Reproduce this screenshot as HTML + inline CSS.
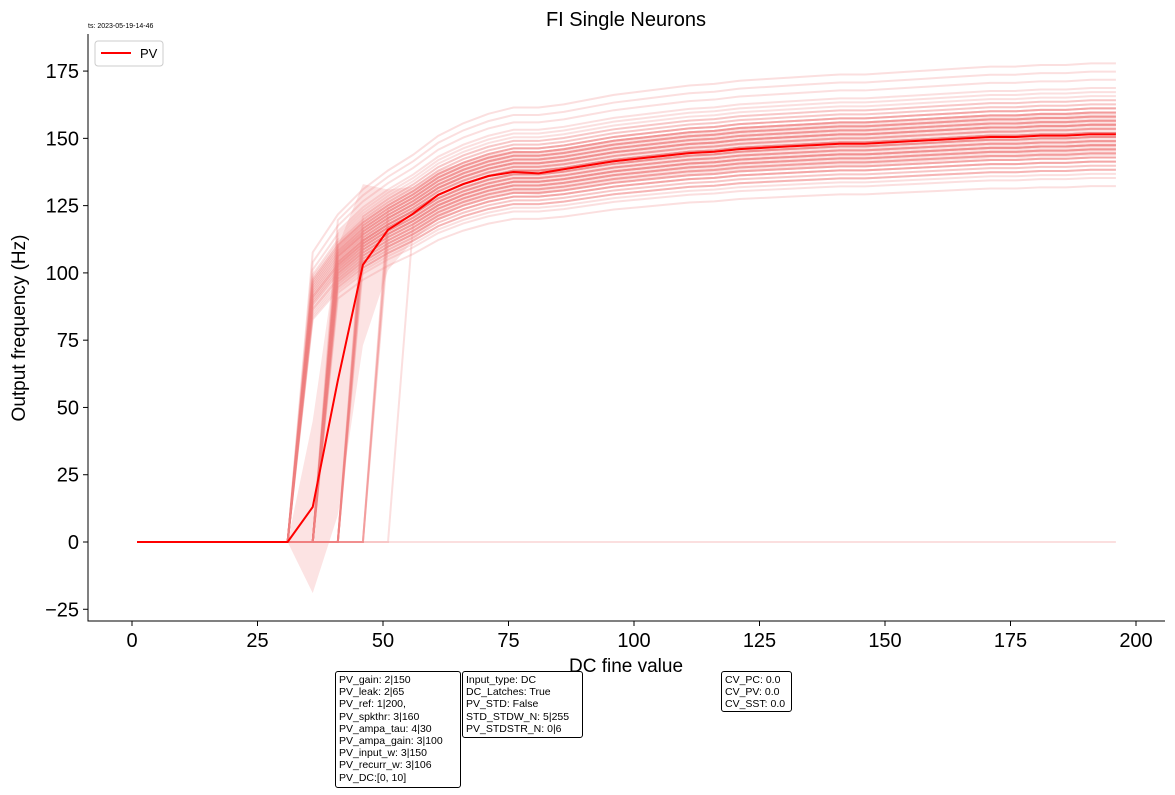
<!DOCTYPE html>
<html><head><meta charset="utf-8"><style>
body{margin:0;background:#fff;font-family:"Liberation Sans","DejaVu Sans",sans-serif}
svg{display:block}
.box{position:absolute;border:1px solid #000;border-radius:3px;background:#fff;font-size:10.5px;line-height:12.2px;padding:2px 3px;white-space:pre}
</style></head><body>
<div style="position:relative;width:1175px;height:795px">
<svg id="chart" width="1175" height="795"></svg>
<div class="box" style="left:335px;top:671px;width:118px;height:111px">PV_gain: 2|150
PV_leak: 2|65
PV_ref: 1|200,
PV_spkthr: 3|160
PV_ampa_tau: 4|30
PV_ampa_gain: 3|100
PV_input_w: 3|150
PV_recurr_w: 3|106
PV_DC:[0, 10]</div>
<div class="box" style="left:462px;top:671px;width:113px;height:61px">Input_type: DC
DC_Latches: True
PV_STD: False
STD_STDW_N: 5|255
PV_STDSTR_N: 0|6</div>
<div class="box" style="left:721px;top:671px;width:63px;height:35px">CV_PC: 0.0
CV_PV: 0.0
CV_SST: 0.0</div>
</div>
<script>
const xValues=[1,6,11,16,21,26,31,36,41,46,51,56,61,66,71,76,81,86,91,96,101,106,111,116,121,126,131,136,141,146,151,156,161,166,171,176,181,186,191,196];
const meanValues=[0,0,0,0,0,0,0,13,60,103,116,122,129,133,136,137.5,137,138.5,140,141.5,142.5,143.5,144.5,145,146,146.5,147,147.5,148,148,148.5,149,149.5,150,150.5,150.5,151,151,151.5,151.5];
const stdValues=[0,0,0,0,0,0,0,32,50,30,15,10,9,8,8,8,8,8,8,8,8,8,8,8,8,8,8,8,8,8,8,8,8,8,8,8,8,8,8,8];
const activeShape=[0,0,0,0,0,0,0,92,104,112,118,123,129,133,136,138,138,139,140.5,142,143,144,145,145.5,146.5,147,147.5,148,148.5,148.5,149,149.5,150,150.5,151,151,151.5,151.5,152,152];
const neuronOnset=[36,36,36,36,36,36,36,36,36,36,36,36,36,36,36,36,36,36,36,36,36,36,36,36,36,36,36,36,36,36,
41,41,41,41,41,41,41,41,41,41,41,41,41,41,41,41,41,41,41,41,41,41,41,41,41,41,41,41,41,41,
46,46,46,46,46,46,46,46,46,46,46,46,51,51,51,51,51,56,36,41,36,41,36,41,36,41,46,36,41,999];
const neuronScale=[1.17,1.13,1.10,1.08,1.06,1.05,1.04,1.03,1.02,1.01,1.0,0.99,0.98,0.97,0.96,0.95,0.94,0.93,0.92,0.91,1.07,1.05,1.03,1.02,1.0,0.99,0.97,0.96,0.94,0.9,
1.15,1.11,1.09,1.07,1.06,1.05,1.04,1.03,1.02,1.01,1.0,1.0,0.99,0.98,0.97,0.96,0.95,0.94,0.93,0.92,0.91,0.89,0.87,1.06,1.04,1.02,1.0,0.98,0.96,0.93,
1.08,1.05,1.03,1.01,1.0,0.98,0.97,0.95,0.93,0.91,1.04,0.99,1.05,1.0,0.97,0.94,1.02,0.96,1.01,1.03,0.99,0.97,1.04,1.02,0.98,0.99,1.0,1.06,0.95,0];
const xTicks=[0,25,50,75,100,125,150,175,200];
const yTicks=[-25,0,25,50,75,100,125,150,175];
const NS="http://www.w3.org/2000/svg";
const svg=document.getElementById('chart');
const X=v=>132+v*5.02, Y=v=>542-v*2.691;
function mk(t,a,p){const e=document.createElementNS(NS,t);for(const k in a)e.setAttribute(k,a[k]);(p||svg).appendChild(e);return e;}
let up=xValues.map((x,i)=>X(x)+','+Y(meanValues[i]+stdValues[i]));
let dn=xValues.map((x,i)=>X(x)+','+Y(meanValues[i]-stdValues[i])).reverse();
const band=mk('polygon',{points:up.concat(dn).join(' '),fill:'#f08080','fill-opacity':0.22,stroke:'none'});


neuronOnset.forEach((on,n)=>{
  const pts=xValues.map((x,i)=>X(x)+','+Y(x>=on?activeShape[i]*neuronScale[n]:0)).join(' ');
  const l=mk('polyline',{points:pts,fill:'none',stroke:'#f08080','stroke-opacity':0.25,'stroke-width':2});
  
  
});
const m=mk('polyline',{points:xValues.map((x,i)=>X(x)+','+Y(meanValues[i])).join(' '),fill:'none',stroke:'#ff0000','stroke-width':2});


const ax=mk('path',{d:'M88,34V621H1165',fill:'none',stroke:'#000','stroke-width':1});


xTicks.forEach(v=>{mk('line',{x1:X(v),x2:X(v),y1:621,y2:626,stroke:'#000'});
  const t=mk('text',{x:X(v),y:647,'text-anchor':'middle','font-size':20});t.textContent=v;
  
  });
yTicks.forEach(v=>{mk('line',{x1:83,x2:88,y1:Y(v),y2:Y(v),stroke:'#000'});
  const t=mk('text',{x:79,y:Y(v)+7,'text-anchor':'end','font-size':20});t.textContent=v<0?'\u221225':v;
  
  });
const xl=mk('text',{x:626,y:672,'text-anchor':'middle','font-size':19});xl.textContent='DC fine value';


const yl=mk('text',{x:25,y:328,'text-anchor':'middle','font-size':19,transform:'rotate(-90 25 328)'});yl.textContent='Output frequency (Hz)';


const ti=mk('text',{x:626,y:26,'text-anchor':'middle','font-size':20});ti.textContent='FI Single Neurons';


const ts=mk('text',{x:88,y:28,'font-size':7});ts.textContent='ts: 2023-05-19-14-46';


const lg=mk('g',{});


mk('rect',{x:95,y:41,width:68,height:25,rx:3,fill:'#fff',stroke:'#ccc'},lg);
mk('line',{x1:101,x2:131,y1:53,y2:53,stroke:'#ff0000','stroke-width':2},lg);
const lt=mk('text',{x:140,y:58,'font-size':13},lg);lt.textContent='PV';
</script>
</body></html>
